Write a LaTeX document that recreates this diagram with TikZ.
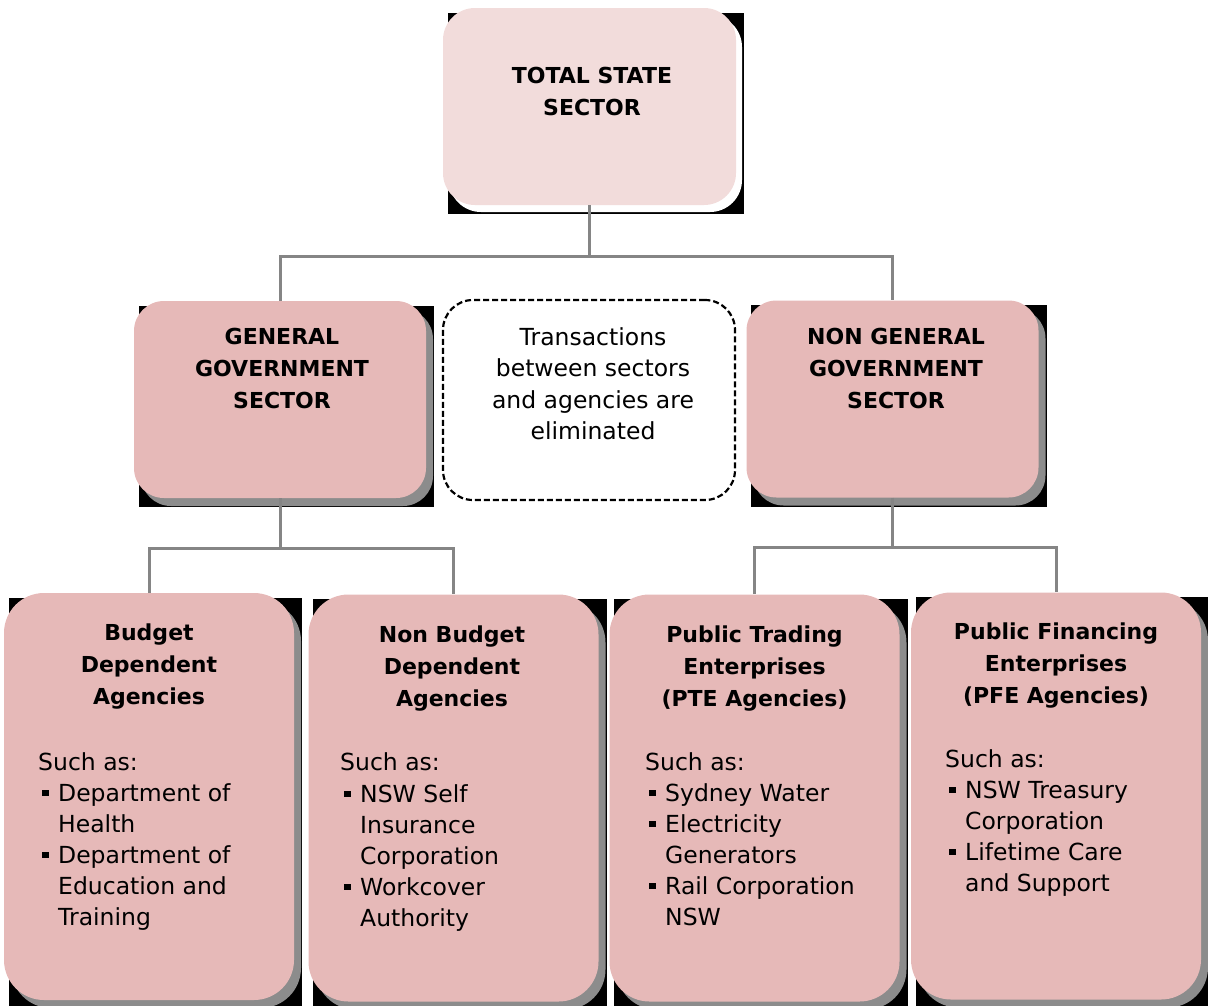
\documentclass[tikz,border=0pt]{standalone}
\usepackage{fontspec}
\setmainfont{DejaVu Sans}
\usetikzlibrary{positioning,shadows,backgrounds}

\definecolor{toppink}{HTML}{F2DCDB}
\definecolor{boxpink}{HTML}{E6B9B8}
\definecolor{linegray}{HTML}{858585}

\newcommand{\sq}{\makebox[20pt][l]{\hspace*{4pt}\rule[5pt]{6.5pt}{6.5pt}}}
\newcommand{\hang}{\hspace*{20pt}}

\tikzset{
  topbox/.style={fill=toppink, rounded corners=32pt, minimum width=293pt, minimum height=197pt, inner sep=0pt,
    drop shadow={shadow xshift=6pt, shadow yshift=-7pt, fill=white, opacity=1}},
  sector/.style={fill=boxpink, rounded corners=30pt, minimum width=292pt, minimum height=197pt, inner sep=0pt,
    drop shadow={shadow xshift=7pt, shadow yshift=-8pt, fill=black!45, opacity=1}},
  agency/.style={sector, rounded corners=40pt, minimum width=290pt, minimum height=407pt},
  note/.style={draw=black, line width=2.2pt, dash pattern=on 6pt off 3pt, rounded corners=30pt,
    minimum width=292pt, minimum height=200pt, inner sep=0pt},
  heading/.style={font=\bfseries\fontsize{22}{32}\selectfont, align=center, anchor=north, inner sep=0pt},
  notetext/.style={font=\fontsize{23.5}{31.5}\selectfont, align=center, anchor=north, inner sep=0pt},
  examples/.style={font=\fontsize{23.5}{31}\selectfont, align=left, anchor=north west, inner sep=0pt},
  link/.style={draw=linegray, line width=3pt},
}

\begin{document}
\begin{tikzpicture}[x=1pt, y=-1pt]
\useasboundingbox (0,0) rectangle (1208,1005);

% boxes
\node[topbox] (total) at (589.5,106.5) {};
\node[sector] (gg) at (280,399.5) {};
\node[note] (elim) at (589,400) {};
\node[sector] (ngg) at (892.5,399) {};
\node[agency] (bda) at (149,796.5) {};
\node[agency] (nbda) at (453.5,798) {};
\node[agency] (pte) at (754.5,798) {};
\node[agency] (pfe) at (1056,796) {};

% dark frames behind the shaded boxes
\begin{scope}[on background layer]
\foreach \b in {total,gg,ngg,bda,nbda,pte,pfe}
  \fill[black] ([shift={(5,5)}]\b.north west) rectangle ([shift={(8,9)}]\b.south east);
\end{scope}

% tree lines
\coordinate (split) at (589.5,256);
\coordinate (splitgg) at (280,548);
\coordinate (splitngg) at (892.5,547);
\draw[link] (total.south) -- (split) -| (gg.north);
\draw[link] (split) -| (ngg.north);
\draw[link] (gg.south) -- (splitgg) -| (bda.north);
\draw[link] (splitgg) -| (nbda.north);
\draw[link] (ngg.south) -- (splitngg) -| (pte.north);
\draw[link] (splitngg) -| (pfe.north);

% texts
\node[heading] (totaltxt) at (592,67) {TOTAL STATE\\SECTOR};
\node[heading] (ggtxt) at (282,328) {GENERAL\\GOVERNMENT\\SECTOR};
\node[notetext] (elimtxt) at (593,327) {Transactions\\between sectors\\and agencies are\\eliminated};
\node[heading] (nggtxt) at (896,328) {NON GENERAL\\GOVERNMENT\\SECTOR};

\node[heading] (bdatxt) at (149,624) {Budget\\Dependent\\Agencies};
\node[heading] (nbdatxt) at (452,626) {Non Budget\\Dependent\\Agencies};
\node[heading] (ptetxt) at (754.5,626) {Public Trading\\Enterprises\\(PTE Agencies)};
\node[heading] (pfetxt) at (1056,623) {Public Financing\\Enterprises\\(PFE Agencies)};

\node[examples] (bdalist) at (38,752) {Such as:\\
\sq Department of\\ \hang Health\\
\sq Department of\\ \hang Education and\\ \hang Training};
\node[examples] (nbdalist) at (340,752) {Such as:\\[1pt]
\sq NSW Self\\ \hang Insurance\\ \hang Corporation\\
\sq Workcover\\ \hang Authority};
\node[examples] (ptelist) at (645,752) {Such as:\\
\sq Sydney Water\\
\sq Electricity\\ \hang Generators\\
\sq Rail Corporation\\ \hang NSW};
\node[examples] (pfelist) at (945,749) {Such as:\\
\sq NSW Treasury\\ \hang Corporation\\
\sq Lifetime Care\\ \hang and Support};
\end{tikzpicture}
\end{document}
